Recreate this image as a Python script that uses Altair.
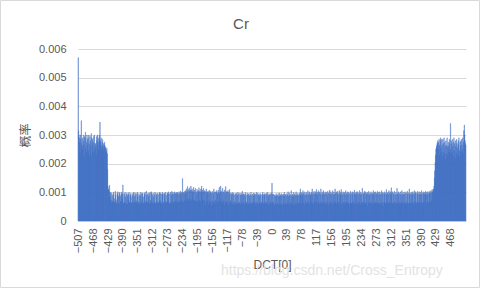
import altair as alt
import pandas as pd

# probability values in units of 1e-5, DCT[0] from -507 to 507
left_tail = [
    570, 315, 300, 275, 290, 240, 300, 285, 350, 270,
    260, 290, 250, 280, 300, 265, 225, 295, 290, 310,
    255, 275, 240, 300, 285, 265, 290, 245, 300, 270,
    225, 295, 280, 260, 305, 230, 290, 285, 265, 275,
    240, 295, 300, 250, 270, 270, 260, 230, 295, 280,
    265, 300, 290, 250, 275, 285, 300, 345, 280, 270,
    290, 260, 245, 275, 285, 260, 250, 270, 265, 275,
    255, 260, 250, 240, 245, 255, 235, 180, 120, 110,
]
center_neg = [
    110, 102, 125, 96, 84, 100, 72, 64, 98, 90,
    70, 66, 95, 100, 78, 62, 68, 104, 92, 74,
    60, 64, 98, 92, 102, 86, 62, 58, 96, 100,
    88, 70, 66, 94, 100, 80, 96, 126, 64, 60,
    92, 98, 66, 62, 84, 100, 94, 60, 58, 88,
    96, 72, 94, 100, 66, 62, 90, 96, 84, 64,
    60, 96, 90, 68, 64, 98, 100, 86, 62, 66,
    92, 98, 70, 62, 94, 100, 84, 60, 66, 96,
    90, 64, 60, 88, 100, 96, 70, 62, 94, 98,
    84, 60, 64, 96, 92, 100, 62, 68, 104, 90,
    66, 62, 94, 98, 86, 64, 60, 96, 100, 72,
    64, 102, 96, 70, 62, 92, 98, 84, 60, 66,
    94, 100, 64, 60, 96, 90, 68, 62, 98, 92,
    66, 62, 96, 100, 72, 64, 98, 94, 60, 66,
    100, 92, 96, 64, 60, 94, 98, 70, 66, 100,
    90, 62, 66, 98, 96, 70, 102, 94, 64, 60,
    96, 100, 64, 62, 92, 104, 96, 68, 100, 94,
    62, 66, 102, 96, 70, 98, 94, 64, 100, 96,
    100, 68, 64, 96, 102, 92, 66, 98, 104, 70,
    96, 100, 66, 148, 98, 64, 100, 96, 70, 104,
    98, 106, 74, 112, 100, 70, 120, 104, 110, 78,
    72, 116, 104, 108, 76, 122, 106, 70, 112, 100,
    104, 74, 118, 100, 108, 72, 68, 114, 102, 96,
    70, 110, 102, 66, 106, 100, 116, 72, 104, 100,
    68, 112, 104, 122, 74, 108, 100, 70, 114, 102,
    106, 72, 100, 56, 104, 112, 96, 68, 102, 100,
    104, 58, 96, 108, 70, 100, 66, 104, 98, 54,
    98, 70, 104, 62, 96, 112, 68, 100, 58, 102,
    72, 100, 106, 64, 98, 94, 108, 66, 100, 118,
    96, 68, 102, 122, 70, 104, 98, 64, 114, 100,
    70, 102, 56, 108, 96, 68, 120, 100, 62, 104,
    100, 66, 106, 54, 100, 94, 110, 64, 98, 70,
    62, 96, 90, 100, 58, 94, 66, 98, 56, 92,
    68, 60, 96, 92, 58, 98, 64, 90, 100, 60,
    94, 66, 60, 98, 90, 56, 96, 64, 92, 104,
    60, 92, 96, 62, 94, 58, 88, 100, 64, 92,
    66, 60, 98, 90, 56, 94, 62, 96, 88, 60,
    92, 64, 100, 58, 90, 66, 94, 60, 98, 88,
    62, 96, 90, 58, 94, 66, 100, 60, 92, 64,
    98, 58, 90, 94, 62, 88, 96, 60, 92, 66,
    60, 94, 88, 100, 64, 92, 56, 96, 90, 62,
    94, 66, 98, 60, 92, 64, 100, 88, 56, 94,
    90, 62, 96, 66, 92, 60, 98, 132, 64, 94,
]
center_pos = [
    66, 94, 58, 90, 54, 92, 86, 60, 96, 88,
    56, 90, 62, 96, 88, 54, 86, 98, 60, 92,
    88, 58, 96, 90, 54, 92, 62, 94, 86, 100,
    58, 90, 94, 62, 88, 56, 96, 64, 92, 102,
    86, 60, 98, 90, 56, 92, 64, 106, 88, 62,
    94, 88, 58, 100, 86, 92, 56, 96, 90, 62,
    102, 60, 92, 88, 96, 56, 90, 64, 98, 92,
    62, 112, 90, 96, 60, 100, 88, 94, 106, 64,
    98, 90, 58, 102, 92, 66, 96, 60, 100, 90,
    64, 106, 94, 66, 98, 58, 102, 92, 88, 96,
    66, 100, 112, 92, 62, 98, 58, 104, 94, 68,
    96, 102, 64, 110, 94, 60, 100, 92, 106, 66,
    98, 60, 102, 94, 66, 112, 96, 64, 58, 100,
    92, 106, 64, 98, 94, 60, 102, 66, 96, 58,
    100, 92, 64, 104, 96, 56, 98, 66, 108, 94,
    62, 102, 94, 66, 98, 58, 106, 92, 64, 100,
    94, 64, 112, 96, 66, 102, 60, 98, 92, 104,
    64, 96, 66, 106, 94, 56, 100, 92, 110, 62,
    98, 92, 60, 102, 66, 96, 58, 100, 94, 64,
    106, 66, 98, 92, 60, 102, 94, 64, 100, 56,
    96, 64, 104, 92, 62, 98, 60, 102, 94, 66,
    100, 60, 94, 108, 64, 98, 92, 58, 102, 96,
    62, 102, 92, 60, 98, 66, 106, 94, 56, 100,
    92, 64, 96, 114, 66, 58, 98, 94, 62, 104,
    96, 64, 102, 60, 94, 98, 52, 100, 92, 64,
    104, 92, 62, 98, 94, 60, 102, 66, 96, 58,
    98, 92, 106, 62, 94, 100, 60, 102, 66, 96,
    62, 98, 92, 104, 66, 60, 100, 94, 62, 102,
    92, 60, 98, 66, 106, 94, 62, 100, 52, 96,
    66, 102, 94, 62, 98, 60, 110, 92, 64, 96,
    100, 62, 94, 106, 66, 98, 60, 102, 92, 116,
    96, 64, 102, 60, 98, 94, 62, 104, 66, 92,
    60, 100, 94, 64, 114, 62, 96, 92, 102, 58,
    98, 66, 94, 60, 102, 92, 64, 106, 66, 96,
    92, 60, 100, 94, 62, 102, 66, 96, 58, 98,
    66, 104, 92, 62, 98, 60, 112, 94, 64, 96,
    62, 100, 92, 60, 102, 94, 66, 98, 58, 106,
    94, 62, 96, 102, 66, 60, 98, 92, 104, 62,
    96, 66, 102, 94, 60, 100, 92, 64, 106, 94,
    64, 98, 60, 102, 94, 66, 100, 92, 96, 104,
    92, 60, 100, 94, 102, 66, 96, 62, 104, 98,
    94, 102, 66, 106, 98, 70, 110, 102, 98, 106,
    112, 122,
]
right_tail = [
    150, 175, 205, 230, 250, 255, 262, 270, 280, 270,
    275, 250, 285, 265, 230, 280, 290, 255, 240, 285,
    265, 225, 285, 270, 240, 290, 235, 275, 260, 215,
    280, 265, 235, 290, 260, 230, 275, 260, 240, 285,
    270, 250, 340, 235, 280, 270, 240, 285, 260, 225,
    275, 290, 245, 270, 220, 280, 260, 235, 285, 270,
    255, 230, 280, 265, 290, 245, 225, 275, 260, 280,
    240, 285, 265, 250, 290, 235, 275, 315, 335, 300,
    280, 270, 265,
]
tick_labels = [-507, -468, -429, -390, -351, -312, -273, -234, -195, -156,
               -117, -78, -39, 0, 39, 78, 117, 156, 195, 234, 273, 312,
               351, 390, 429, 468]
y_ticks = [0, 0.001, 0.002, 0.003, 0.004, 0.005, 0.006]

values = left_tail + center_neg + center_pos + right_tail
dct = list(range(-507, -507 + len(values)))
df = pd.DataFrame({"dct": dct, "p": [v * 1e-5 for v in values]})
df["x0"] = df["dct"] - 0.5
df["x1"] = df["dct"] + 0.5
df["base"] = 0.0

FONT = "Liberation Sans"
GREY = "#595959"
W, H = 388, 172

bars = alt.Chart(df).mark_bar(color="#4472C4", stroke="#4472C4", strokeWidth=0.35).encode(
    x=alt.X("x0:Q", scale=alt.Scale(domain=[-507.5, 507.5], nice=False, zero=False),
            axis=alt.Axis(values=tick_labels, labelAngle=-90, labelFontSize=11, labelColor=GREY,
                          labelFont=FONT, ticks=False, domain=True, domainColor="#d9d9d9",
                          labelPadding=7, grid=False, title="DCT[0]", titleFont=FONT,
                          titleFontSize=12, titleColor=GREY, titleFontWeight="normal",
                          titleY=43, titleBaseline="middle", labelOverlap=False)),
    x2="x1:Q",
    y=alt.Y("p:Q", scale=alt.Scale(domain=[0, 0.006], nice=False),
            axis=alt.Axis(values=y_ticks, format="~g", labelFontSize=11, labelColor=GREY,
                          labelFont=FONT, ticks=False, domain=False, labelPadding=12,
                          grid=True, gridColor="#d9d9d9", title="概率",
                          titleFont="Noto Sans CJK SC", titleFontSize=12, titleColor=GREY,
                          titleFontWeight="normal", titleX=-53, titleY=86,
                          titleBaseline="middle", titleAlign="center", titleAngle=-90)),
    y2="base:Q",
)

title = alt.Chart(pd.DataFrame({"t": ["Cr"]})).mark_text(
    align="center", baseline="alphabetic", fontSize=15, font=FONT, color=GREY
).encode(text="t:N", x=alt.value(241 - 78), y=alt.value(28.5 - 49))

watermark = alt.Chart(pd.DataFrame({"t": ["https://blog.csdn.net/Cross_Entropy"]})).mark_text(
    align="left", baseline="alphabetic", fontSize=14, font=FONT, color="#e3e3e3"
).encode(text="t:N", x=alt.value(221 - 78), y=alt.value(275 - 49))

border = alt.Chart(pd.DataFrame({"a": [0]})).mark_rect(
    fill=None, stroke="#d9d9d9", strokeWidth=1
).encode(x=alt.value(-77.5), x2=alt.value(479.5 - 78), y=alt.value(-48.5), y2=alt.value(287.5 - 49))

chart = alt.layer(border, bars, title, watermark).properties(
    width=W, height=H,
    autosize=alt.AutoSizeParams(type="none"),
    padding={"left": 78, "top": 49, "right": 15, "bottom": 68},
    background="white",
).configure_view(stroke=None)

chart.save("out.html", embed_options={"renderer": "svg", "actions": False})
